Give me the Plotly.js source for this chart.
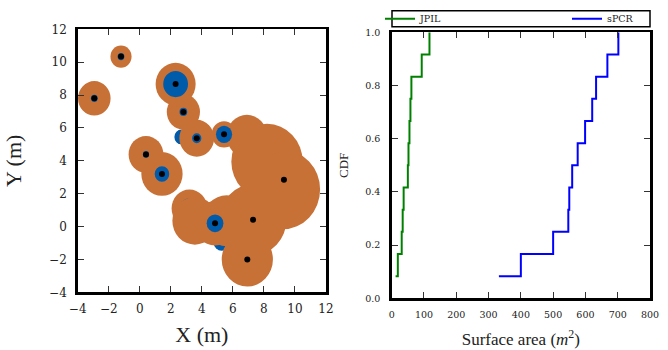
<!DOCTYPE html>
<html><head><meta charset="utf-8">
<script src="https://cdn.plot.ly/plotly-3.0.1.min.js"></script>
<style>html,body{margin:0;padding:0;background:#fff}#chart{width:668px;height:350px}</style>
</head><body><div id="chart"></div>
<script>
// Left panel: measurement sites (draw order matters), radii in metres
const siteX   = [2.68, 2.81, 2.31, 3.67, -2.93, -1.21, 0.40, 1.43, 3.20, 3.55, 5.28, 5.60, 7.30, 4.85, 6.93, 6.90, 5.43, 8.20, 9.20, 9.29];
const siteY   = [5.45, 6.97, 8.67, 5.37, 7.80, 10.34, 4.39, 3.20, 1.10, 0.35, -0.95, 0.35, 0.42, 0.20, -2.00, 5.50, 5.61, 3.95, 2.25, 2.85];
const rSPCR   = [0.30, 1.07, 1.29, 1.12, 1.05, 0.68, 1.12, 1.33, 1.15, 1.45, 0.30, 1.55, 2.15, 1.35, 1.65, 1.30, 0.80, 2.30, 2.42, 1.70];
const rJPIL   = [0.45, 0.25, 0.80, 0.30, 0.22, 0.22, 0.20, 0.47, 0.62, 0.00, 0.52, 0.00, 0.00, 0.54, 0.00, 0.00, 0.52, 0.00, 0.00, 0.00];
const marked  = [0, 1, 1, 1, 1, 1, 1, 1, 0, 0, 0, 0, 1, 1, 1, 0, 1, 0, 0, 1];

// Right panel: empirical CDF of surface area (m^2)
const jpilArea = [12, 19, 31, 34, 37, 50, 52, 55, 58, 61, 93, 117];
const spcrArea = [332, 400, 500, 547, 550, 559, 576, 599, 621, 633, 668, 702];
const cdfLevels = [0.0833, 0.1667, 0.25, 0.3333, 0.4167, 0.5, 0.5833, 0.6667, 0.75, 0.8333, 0.9167, 1.0];
const seriesNames = ['JPIL', 'sPCR'];

const ORANGE = '#C87137', BLUE = '#005BAA';
const W = 668, H = 350;
const FONT = 'Liberation Serif, Times New Roman, serif';
const TICKFONT = 'DejaVu Serif, serif';

const shapes = [];
for (let i = 0; i < siteX.length; i++) {
  [[rSPCR[i], ORANGE], [rJPIL[i], BLUE]].forEach(([r, c]) => {
    if (r > 0) shapes.push({type: 'circle', xref: 'x', yref: 'y', layer: 'below',
      x0: siteX[i] - r, x1: siteX[i] + r, y0: siteY[i] - r, y1: siteY[i] + r,
      fillcolor: c, line: {width: 0}});
  });
}
// legend frame
shapes.push({type: 'rect', xref: 'paper', yref: 'paper', x0: 392 / W, x1: 650 / W,
  y0: 1 - 26.7 / H, y1: 1 - 10.7 / H, line: {color: 'black', width: 1.5}, fillcolor: 'rgba(0,0,0,0)'});

const dotX = siteX.filter((_, i) => marked[i]);
const dotY = siteY.filter((_, i) => marked[i]);

const traces = [
  {x: dotX, y: dotY, xaxis: 'x', yaxis: 'y', mode: 'markers', type: 'scatter',
   marker: {color: 'black', size: 6}, showlegend: false, hoverinfo: 'skip'},
  {x: jpilArea, y: cdfLevels, xaxis: 'x2', yaxis: 'y2', mode: 'lines', type: 'scatter',
   name: seriesNames[0], line: {color: '#008000', width: 2, shape: 'hv'}, legend: 'legend'},
  {x: spcrArea, y: cdfLevels, xaxis: 'x2', yaxis: 'y2', mode: 'lines', type: 'scatter',
   name: seriesNames[1], line: {color: '#0000FF', width: 2, shape: 'hv'}, legend: 'legend2'}
];

const axBase = {ticks: 'inside', ticklen: 6, tickwidth: 1, tickcolor: '#333', showline: true,
  linewidth: 2.5, linecolor: 'black', mirror: 'ticks', showgrid: false, zeroline: false,
  fixedrange: true};

const layout = {
  width: W, height: H, margin: {l: 0, r: 0, t: 0, b: 0},
  paper_bgcolor: 'white', plot_bgcolor: 'white',
  font: {family: FONT, color: '#222'},
  shapes: shapes,
  xaxis: Object.assign({}, axBase, {domain: [77.7 / W, 326 / W], range: [-4, 12], tick0: -4, dtick: 2,
    anchor: 'y', tickfont: {family: TICKFONT, size: 12}, ticklabelstandoff: 4,
    title: {text: 'X (m)', font: {family: FONT, size: 22}, standoff: 12}}),
  yaxis: Object.assign({}, axBase, {domain: [1 - 292.3 / H, 1 - 29.3 / H], range: [-4, 12], tick0: -4, dtick: 2,
    anchor: 'x', tickfont: {family: TICKFONT, size: 12}, ticklabelstandoff: 6,
    title: {text: 'Y (m)', font: {family: FONT, size: 22}, standoff: 22}}),
  xaxis2: Object.assign({}, axBase, {domain: [391.7 / W, 650 / W], range: [0, 800], dtick: 100,
    anchor: 'y2', tickfont: {family: TICKFONT, size: 9.5}, ticklabelstandoff: 6,
    title: {text: 'Surface area (<i>m</i><sup>2</sup>)', font: {family: FONT, size: 17}, standoff: 14}}),
  yaxis2: Object.assign({}, axBase, {domain: [1 - 298.3 / H, 1 - 32.3 / H], range: [0, 1], dtick: 0.2,
    tickformat: '.1f', anchor: 'x2', tickfont: {family: TICKFONT, size: 9.5}, ticklabelstandoff: 7,
    title: {text: 'CDF', font: {family: FONT, size: 13}, standoff: 14}}),
  legend: {x: 380 / W, xanchor: 'left', y: 1 - 18.7 / H, yanchor: 'middle', orientation: 'h',
    bgcolor: 'rgba(0,0,0,0)', borderwidth: 0, font: {family: TICKFONT, size: 9.5}},
  legend2: {x: 567 / W, xanchor: 'left', y: 1 - 18.7 / H, yanchor: 'middle', orientation: 'h',
    bgcolor: 'rgba(0,0,0,0)', borderwidth: 0, font: {family: TICKFONT, size: 9.5}},
  showlegend: true
};

Plotly.newPlot('chart', traces, layout, {displayModeBar: false, staticPlot: true});
</script>
</body></html>
